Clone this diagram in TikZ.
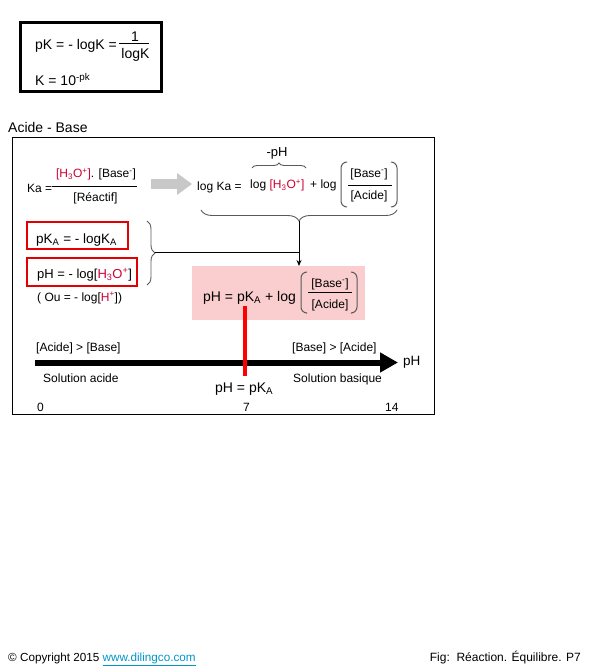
\documentclass[tikz,border=0pt]{standalone}
\usepackage{fontspec}
\setmainfont{Liberation Sans}
\usetikzlibrary{arrows.meta,decorations.pathreplacing}
\definecolor{hred}{RGB}{204,0,51}
\definecolor{boxred}{RGB}{228,0,0}
\definecolor{pinkfill}{RGB}{250,206,206}
\definecolor{linkblue}{RGB}{0,150,200}
\definecolor{arrgray}{RGB}{200,200,200}
\definecolor{bracegray}{RGB}{90,90,90}
\newcommand\fs[1]{\fontsize{#1}{#1}\selectfont}
\newcommand\hto{H\textsubscript{3}O\textsuperscript{+}}
\tikzset{
  txt/.style={inner sep=0pt, anchor=base west},
  ctxt/.style={inner sep=0pt, anchor=base},
  paren/.style={draw=bracegray, line width=1pt, rounded corners=6pt},
  bracestyle/.style={draw=bracegray, line width=0.9pt, decorate},
  redframe/.style={draw=boxred, line width=2pt},
}
\begin{document}
\begin{tikzpicture}[x=1pt,y=-1pt]
\useasboundingbox (0,0) rectangle (595,671);

% top box
\draw[line width=3pt] (20.5,22.5) rectangle (161.5,91.5);
\node[txt] (pkdef) at (35,49.5) {\fs{14}pK = - logK =};
\node[ctxt] (one) at (135,41.5) {\fs{14}1};
\draw (119,43.5) -- (149,43.5);
\node[ctxt] (logk) at (135.5,59) {\fs{14}logK};
\node[txt] (kdef) at (35,86) {\fs{14}K = 10\textsuperscript{-pk}};

% title
\node[txt] (title) at (8,133) {\fs{14}Acide - Base};

% main frame
\draw[line width=1pt] (12.5,137.5) rectangle (434.5,414.5);

% Ka fraction
\node[txt] (ka) at (27,192) {\fs{12}Ka =};
\node[ctxt] (kanum) at (96,178) {\fs{12}\textcolor{hred}{[\hto]}. [Base\textsuperscript{-}]};
\draw (52,186.5) -- (137,186.5);
\node[ctxt] (kaden) at (95.5,201) {\fs{12}[Réactif]};

% gray arrow
\coordinate (ga1) at (151,184);
\coordinate (ga2) at (192,184);
\draw[arrgray, line width=10pt, -{Triangle[length=15pt,width=21pt]}] (ga1) -- (ga2);

% log Ka line
\node[txt] (logka) at (197,190) {\fs{12}log Ka =};
\node[txt] (logh) at (250,189) {\fs{12}log \textcolor{hred}{[\hto]}};
\node[txt] (plog) at (310,189) {\fs{12}+ log};
\draw[bracestyle, decoration={brace,amplitude=5pt}] (252,168) -- (306,168);
\node[ctxt] (mph) at (277,157) {\fs{13}-pH};
\draw[paren] (347,162) -- (341,162) -- (341,207) -- (347,207);
\draw[paren] (391,162) -- (397,162) -- (397,207) -- (391,207);
\node[ctxt] (fb1) at (369,177) {\fs{12}[Base\textsuperscript{-}]};
\draw (348,185.5) -- (392,185.5);
\node[ctxt] (fa1) at (369,199) {\fs{12}[Acide]};

% under brace
\draw[bracestyle, decoration={brace,amplitude=11pt}] (397,210) -- (201,210);
\coordinate (ubtip) at (299,221);

% red boxes
\draw[redframe] (27,222) rectangle (128,249);
\node[txt] (pka) at (36,243) {\fs{13.5}pK\textsubscript{A} = - logK\textsubscript{A}};
\draw[redframe] (27,258) rectangle (137,286);
\node[txt] (phdef) at (37,278) {\fs{13}pH = - log[\textcolor{hred}{\hto}]};
\node[txt] (ou) at (37,301) {\fs{12}( Ou = - log[\textcolor{hred}{H\textsuperscript{+}}])};

% right brace
\draw[bracestyle, decoration={brace,amplitude=8pt}] (147,221) -- (147,285);
\coordinate (rbtip) at (155,252.5);

% pink box
\node[fill=pinkfill, anchor=north west, minimum width=173pt, minimum height=54pt, inner sep=0pt] (pink) at (192,266) {};
\node[txt] (phform) at (203,301) {\fs{14}pH = pK\textsubscript{A} + log};
\draw[paren] (306,272) -- (301,272) -- (301,313) -- (306,313);
\draw[paren] (352,272) -- (357,272) -- (357,313) -- (352,313);
\node[ctxt] (fb2) at (330,287) {\fs{12}[Base\textsuperscript{-}]};
\draw (308,292.5) -- (352,292.5);
\node[ctxt] (fa2) at (330,308) {\fs{12}[Acide]};

% connectors
\draw[line width=0.9pt] (rbtip) -- (rbtip -| ubtip);
\draw[line width=0.9pt, -{Stealth[length=6pt,width=5pt]}] (ubtip) -- (ubtip |- pink.north);

% pH axis
\coordinate (axL) at (35,362.5);
\coordinate (axR) at (398,362.5);
\draw[line width=6pt, -{Triangle[length=18pt,width=19pt]}] (axL) -- (axR);
\node[txt] (phlab) at (403,365) {\fs{13.5}pH};
\coordinate (rl1) at (245,306);
\coordinate (rl2) at (245,376);
\draw[red, line width=4pt] (rl1) -- (rl2);

\node[txt] (ab) at (36,351) {\fs{12}[Acide] > [Base]};
\node[txt] (ba) at (292,351) {\fs{12}[Base] > [Acide]};
\node[txt] (sa) at (43,382) {\fs{12}Solution acide};
\node[txt] (sb) at (293,382) {\fs{12}Solution basique};
\node[txt] (phpka) at (215,392) {\fs{14}pH = pK\textsubscript{A}};
\node[txt] (t0) at (37,411) {\fs{12}0};
\node[txt] (t7) at (243,411) {\fs{12}7};
\node[txt] (t14) at (385,411) {\fs{12}14};

% footer
\node[txt] (copy) at (8,661) {\fs{11.7}© Copyright 2015 \textcolor{linkblue}{\underline{www.dilingco.com}}};
\node[inner sep=0pt, anchor=base east] (fig) at (581,661) {\fs{12}Fig:\ \ Réaction. Équilibre. P7};
\end{tikzpicture}
\end{document}
